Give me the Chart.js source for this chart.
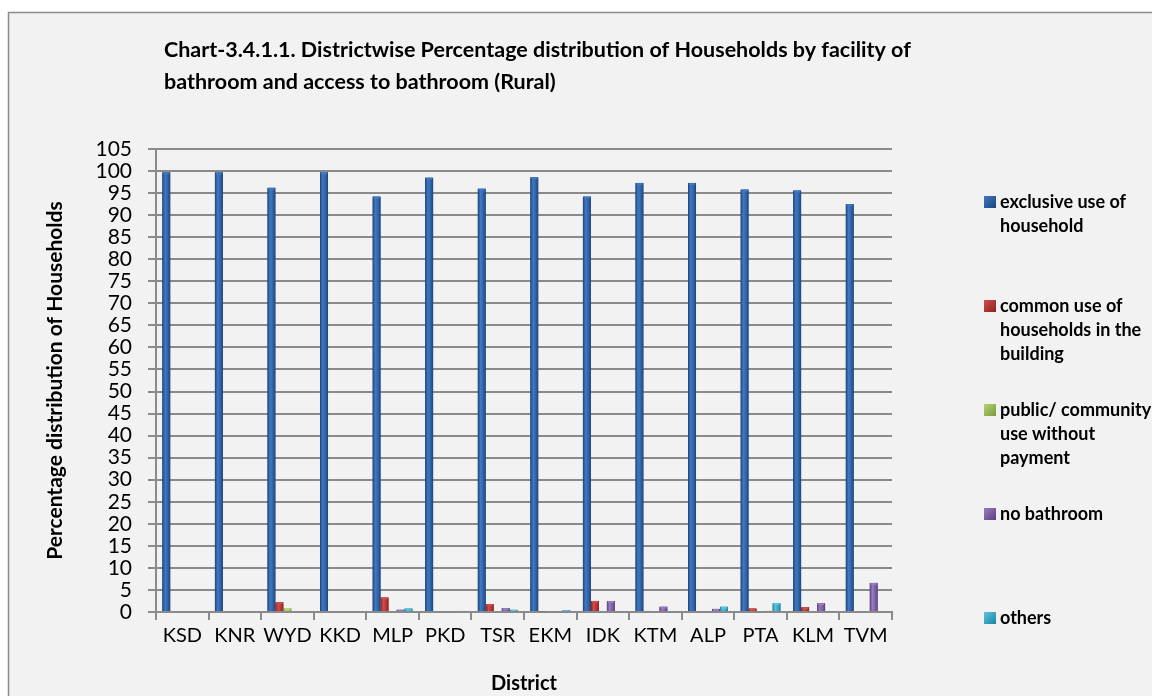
<!DOCTYPE html>
<html>
<head>
<meta charset="utf-8">
<script src="https://cdn.jsdelivr.net/npm/chart.js@4.4.0/dist/chart.umd.min.js"></script>
<style>
  html, body { margin: 0; padding: 0; background: #ffffff; }
  canvas { display: block; }
</style>
</head>
<body>
<canvas id="c" width="1152" height="696"></canvas>
<script>
// ---- Data ----
const districts = ['KSD','KNR','WYD','KKD','MLP','PKD','TSR','EKM','IDK','KTM','ALP','PTA','KLM','TVM'];
const exclusiveUse = [99.7, 99.7, 96.2, 99.7, 94.2, 98.5, 96.0, 98.6, 94.2, 97.3, 97.3, 95.8, 95.6, 92.5];
const commonUse    = [0, 0, 2.2, 0, 3.3, 0.2, 1.8, 0.1, 2.5, 0.3, 0, 0.8, 1.1, 0];
const publicUse    = [0, 0, 0.8, 0, 0, 0, 0, 0, 0, 0, 0, 0, 0, 0];
const noBathroom   = [0, 0, 0, 0, 0.5, 0, 0.9, 0, 2.5, 1.2, 0.7, 0.3, 2.0, 6.6];
const others       = [0, 0, 0, 0, 0.8, 0.3, 0.5, 0.4, 0, 0.1, 1.2, 2.0, 0.1, 0.2];
const yTicks = [0,5,10,15,20,25,30,35,40,45,50,55,60,65,70,75,80,85,90,95,100,105];

const titleLines = ['Chart-3.4.1.1. Districtwise Percentage distribution of Households by facility of',
                    'bathroom and access to bathroom (Rural)'];
const yTitle = 'Percentage distribution of Households';
const xTitle = 'District';
const legendLines = [
  ['exclusive use of', 'household'],
  ['common use of', 'households in the', 'building'],
  ['public/ community', 'use without', 'payment'],
  ['no bathroom'],
  ['others']
];
const seriesNames = ['exclusive use of household', 'common use of households in the building',
                     'public/ community use without payment', 'no bathroom', 'others'];
const seriesColors = ['#2f62a6', '#bb3333', '#9bbb59', '#7c5ea3', '#31a8c8'];
const seriesLight  = ['#4079c4', '#d24c4c', '#b6d470', '#987cc0', '#5ac4e0'];
const seriesBorders = ['#1d4478', '#8a2222', '#789a3c', '#5a4080', '#1d84a0'];
const seriesData = [exclusiveUse, commonUse, publicUse, noBathroom, others];

const FONT = 'Lato, "Open Sans", "DejaVu Sans", sans-serif';
const GRID = '#8a8a8a';

const frameBg = {
  id: 'frameBg',
  beforeDraw(chart) {
    const ctx = chart.ctx;
    ctx.save();
    ctx.fillStyle = '#ffffff';
    ctx.fillRect(0, 0, chart.width, chart.height);
    ctx.fillStyle = '#f2f2f2';
    ctx.fillRect(8, 12, chart.width, chart.height);
    ctx.strokeStyle = '#8c8c8c';
    ctx.lineWidth = 1.5;
    ctx.beginPath();
    ctx.moveTo(8.5, chart.height + 2);
    ctx.lineTo(8.5, 12.5);
    ctx.lineTo(chart.width + 2, 12.5);
    ctx.stroke();
    ctx.restore();
  }
};

// Column shading (cylinder-like look) on top of the bars the library placed
const barShade = {
  id: 'barShade',
  afterDatasetsDraw(chart) {
    const ctx = chart.ctx;
    ctx.save();
    chart.data.datasets.forEach((ds, i) => {
      const meta = chart.getDatasetMeta(i);
      meta.data.forEach(el => {
        const p = el.getProps(['x', 'y', 'base', 'width'], true);
        const h = p.base - p.y;
        if (h <= 0.5) return;
        const l = p.x - p.width / 2, r = p.x + p.width / 2;
        const g = ctx.createLinearGradient(l, 0, r, 0);
        g.addColorStop(0, seriesBorders[i]);
        g.addColorStop(0.35, seriesLight[i]);
        g.addColorStop(0.7, seriesColors[i]);
        g.addColorStop(1, seriesBorders[i]);
        ctx.fillStyle = g;
        ctx.fillRect(l, p.y, p.width, h);
        // lighter top cap
        ctx.fillStyle = seriesLight[i];
        ctx.fillRect(l + 1, p.y, p.width - 2, Math.min(2, h));
      });
    });
    ctx.restore();
  }
};

const texts = {
  id: 'texts',
  afterDraw(chart) {
    const ctx = chart.ctx;
    const area = chart.chartArea;
    ctx.save();
    ctx.fillStyle = '#000000';
    // Title
    ctx.font = 'bold 21.5px ' + FONT;
    ctx.textAlign = 'left';
    ctx.textBaseline = 'alphabetic';
    ctx.fillText(titleLines[0], 164, 57);
    ctx.fillText(titleLines[1], 164, 89);
    // X title
    ctx.font = 'bold 20px ' + FONT;
    ctx.textAlign = 'center';
    ctx.fillText(xTitle, (area.left + area.right) / 2, 690);
    // Y title
    ctx.save();
    ctx.font = 'bold 21px ' + FONT;
    ctx.translate(55, (area.top + area.bottom) / 2);
    ctx.rotate(-Math.PI / 2);
    ctx.textBaseline = 'middle';
    ctx.fillText(yTitle, 0, 0);
    ctx.restore();
    // Legend
    ctx.font = 'bold 18px ' + FONT;
    ctx.textAlign = 'left';
    ctx.textBaseline = 'middle';
    const startY = 202, step = 104, lineH = 24;
    legendLines.forEach((lines, i) => {
      const y0 = startY + i * step;
      const g = ctx.createLinearGradient(984, y0 - 6, 996, y0 + 6);
      g.addColorStop(0, seriesLight[i]);
      g.addColorStop(1, seriesBorders[i]);
      ctx.fillStyle = g;
      ctx.fillRect(984, y0 - 6, 12, 12);
      ctx.fillStyle = '#000000';
      lines.forEach((t, k) => ctx.fillText(t, 1000, y0 + k * lineH));
    });
    ctx.restore();
  }
};

function build() {
  new Chart(document.getElementById('c'), {
    type: 'bar',
    data: {
      labels: districts,
      datasets: seriesData.map((d, i) => ({
        label: seriesNames[i],
        data: d,
        backgroundColor: seriesColors[i],
        borderColor: seriesBorders[i],
        borderWidth: 1,
        categoryPercentage: 0.76,
        barPercentage: 1.0
      }))
    },
    options: {
      responsive: false,
      animation: false,
      devicePixelRatio: 1,
      layout: { padding: { top: 149, right: 260, left: 0, bottom: 0 } },
      plugins: { legend: { display: false }, title: { display: false }, tooltip: { enabled: false } },
      scales: {
        x: {
          grid: { drawOnChartArea: false, drawTicks: true, tickLength: 8, color: GRID, lineWidth: 2, offset: true },
          border: { display: true, color: GRID, width: 2 },
          ticks: { color: '#000000', font: { family: FONT, size: 20 }, padding: 4, maxRotation: 0, autoSkip: false },
          afterFit(s) { s.height = 84; }
        },
        y: {
          min: 0, max: 105,
          afterBuildTicks(s) { s.ticks = yTicks.map(v => ({ value: v })); },
          grid: { color: GRID, lineWidth: 2, tickLength: 8, drawTicks: true },
          border: { display: true, color: GRID, width: 2 },
          ticks: { color: '#000000', font: { family: FONT, size: 21 }, padding: 16, autoSkip: false },
          afterFit(s) { s.width = 156; }
        }
      }
    },
    plugins: [frameBg, barShade, texts]
  });
}

if (document.fonts && document.fonts.load) {
  Promise.all([
    document.fonts.load('20px Lato'),
    document.fonts.load('bold 20px Lato')
  ]).then(build, build);
} else {
  build();
}
</script>
</body>
</html>
